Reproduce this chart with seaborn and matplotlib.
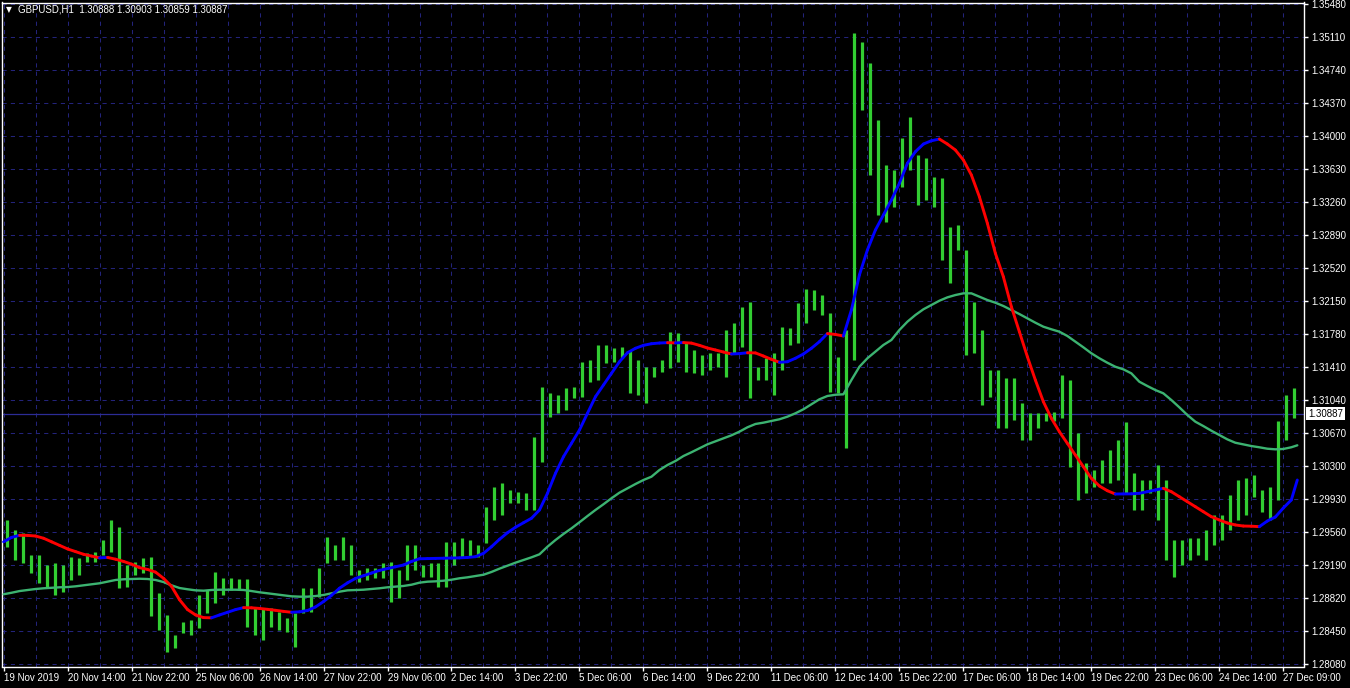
import numpy as np
import matplotlib
matplotlib.use("Agg")
import matplotlib.pyplot as plt
import matplotlib.transforms as mtransforms
from matplotlib.collections import LineCollection
import seaborn as sns

# ---------------- data ----------------
title_text = "GBPUSD,H1  1.30888 1.30903 1.30859 1.30887"
last_price = 1.30887

time_labels = ["19 Nov 2019", "20 Nov 14:00", "21 Nov 22:00", "25 Nov 06:00", "26 Nov 14:00",
               "27 Nov 22:00", "29 Nov 06:00", "2 Dec 14:00", "3 Dec 22:00", "5 Dec 06:00",
               "6 Dec 14:00", "9 Dec 22:00", "11 Dec 06:00", "12 Dec 14:00", "15 Dec 22:00",
               "17 Dec 06:00", "18 Dec 14:00", "19 Dec 22:00", "23 Dec 06:00", "24 Dec 14:00",
               "27 Dec 09:00"]

price_ticks = [1.28080, 1.28450, 1.28820, 1.29190, 1.29560, 1.29930, 1.30300, 1.30670,
               1.31040, 1.31410, 1.31780, 1.32150, 1.32520, 1.32890, 1.33260, 1.33630,
               1.34000, 1.34370, 1.34740, 1.35110, 1.35480]

# price range of every 4-hour block of H1 bars (highs / lows)
block_high = [1.2970, 1.2958, 1.2955, 1.2930, 1.2930, 1.2919, 1.2921, 1.2919, 1.2928, 1.2927,
              1.2932, 1.2934, 1.2947, 1.2970, 1.2962, 1.2919, 1.2922, 1.2927, 1.2928, 1.2888,
              1.2863, 1.2841, 1.2855, 1.2857, 1.2885, 1.2891, 1.2911, 1.2904, 1.2904, 1.2903,
              1.2903, 1.2872, 1.2871, 1.2871, 1.2866, 1.2860, 1.2865, 1.2893, 1.2893, 1.2916,
              1.2950, 1.2941, 1.2950, 1.2941, 1.2913, 1.2916, 1.2916, 1.2921, 1.2922, 1.2913,
              1.2941, 1.2941, 1.2919, 1.2921, 1.2921, 1.2945, 1.2945, 1.2949, 1.2947, 1.2941,
              1.2984, 1.3006, 1.3011, 1.3003, 1.3001, 1.3000, 1.3063, 1.3119, 1.3112, 1.3110,
              1.3117, 1.3119, 1.3147, 1.3149, 1.3166, 1.3166, 1.3162, 1.3163, 1.3160, 1.3149,
              1.3141, 1.3141, 1.3149, 1.3180, 1.3179, 1.3168, 1.3160, 1.3154, 1.3157, 1.3157,
              1.3183, 1.3190, 1.3208, 1.3214, 1.3141, 1.3151, 1.3157, 1.3186, 1.3185, 1.3213,
              1.3228, 1.3227, 1.3222, 1.3202, 1.3152, 1.3183, 1.3516, 1.3505, 1.3482, 1.3418,
              1.3368, 1.3362, 1.3398, 1.3421, 1.3379, 1.3375, 1.3354, 1.3353, 1.3298, 1.3300,
              1.3272, 1.3214, 1.3183, 1.3138, 1.3138, 1.3129, 1.3129, 1.3101, 1.3089, 1.3089,
              1.3089, 1.3091, 1.3132, 1.3126, 1.3067, 1.3033, 1.3026, 1.3037, 1.3048, 1.3059,
              1.3079, 1.3022, 1.3014, 1.3014, 1.3031, 1.3014, 1.2947, 1.2947, 1.2949, 1.2949,
              1.2958, 1.2975, 1.2975, 1.2998, 1.3014, 1.3017, 1.3020, 1.3003, 1.3006, 1.3080,
              1.3110, 1.3117]

block_low = [1.2939, 1.2925, 1.2921, 1.2910, 1.2899, 1.2894, 1.2885, 1.2889, 1.2902, 1.2908,
             1.2922, 1.2922, 1.2930, 1.2934, 1.2893, 1.2894, 1.2908, 1.2910, 1.2862, 1.2846,
             1.2821, 1.2826, 1.2843, 1.2841, 1.2848, 1.2865, 1.2876, 1.2885, 1.2891, 1.2891,
             1.2850, 1.2841, 1.2835, 1.2850, 1.2846, 1.2844, 1.2827, 1.2865, 1.2866, 1.2883,
             1.2921, 1.2925, 1.2925, 1.2908, 1.2900, 1.2902, 1.2904, 1.2904, 1.2878, 1.2882,
             1.2902, 1.2913, 1.2906, 1.2906, 1.2894, 1.2894, 1.2919, 1.2928, 1.2928, 1.2928,
             1.2944, 1.2970, 1.2975, 1.2989, 1.2989, 1.2981, 1.2981, 1.3035, 1.3085, 1.3089,
             1.3093, 1.3106, 1.3107, 1.3124, 1.3126, 1.3146, 1.3147, 1.3151, 1.3112, 1.3110,
             1.3101, 1.3130, 1.3135, 1.3140, 1.3147, 1.3135, 1.3134, 1.3132, 1.3138, 1.3141,
             1.3130, 1.3157, 1.3163, 1.3106, 1.3126, 1.3126, 1.3110, 1.3138, 1.3166, 1.3168,
             1.3190, 1.3205, 1.3199, 1.3113, 1.3112, 1.3050, 1.3149, 1.3429, 1.3356, 1.3311,
             1.3304, 1.3320, 1.3343, 1.3362, 1.3323, 1.3328, 1.3320, 1.3261, 1.3235, 1.3272,
             1.3154, 1.3157, 1.3098, 1.3107, 1.3073, 1.3073, 1.3082, 1.3059, 1.3059, 1.3073,
             1.3080, 1.3080, 1.3084, 1.3029, 1.2992, 1.3000, 1.3006, 1.3011, 1.3011, 1.3014,
             1.3000, 1.2981, 1.2981, 1.3000, 1.2970, 1.2925, 1.2906, 1.2919, 1.2925, 1.2930,
             1.2925, 1.2941, 1.2947, 1.2958, 1.2970, 1.2975, 1.2995, 1.2978, 1.2970, 1.2992,
             1.3059, 1.3084]

# fast moving average (colour by direction), sampled every 4 bars + last bar
fast_ma = [1.29450, 1.29500, 1.29523, 1.29522, 1.29515, 1.29490, 1.29450, 1.29410, 1.29370, 1.29340,
           1.29310, 1.29290, 1.29270, 1.29275, 1.29255, 1.29230, 1.29200, 1.29160, 1.29140, 1.29110,
           1.29040, 1.28950, 1.28800, 1.28690, 1.28630, 1.28600, 1.28598, 1.28630, 1.28660, 1.28690,
           1.28712, 1.28710, 1.28703, 1.28693, 1.28682, 1.28670, 1.28660, 1.28665, 1.28680, 1.28720,
           1.28780, 1.28850, 1.28930, 1.28990, 1.29040, 1.29070, 1.29100, 1.29130, 1.29150, 1.29170,
           1.29190, 1.29230, 1.29260, 1.29262, 1.29264, 1.29266, 1.29268, 1.29270, 1.29275, 1.29283,
           1.29321, 1.29395, 1.29478, 1.29552, 1.29613, 1.29664, 1.29714, 1.29807, 1.29994, 1.30218,
           1.30404, 1.30554, 1.30704, 1.30891, 1.31077, 1.31208, 1.31339, 1.31469, 1.31570, 1.31620,
           1.31653, 1.31671, 1.31679, 1.31683, 1.31680, 1.31684, 1.31678, 1.31653, 1.31623, 1.31601,
           1.31578, 1.31556, 1.31560, 1.31570, 1.31568, 1.31533, 1.31496, 1.31463, 1.31469, 1.31508,
           1.31556, 1.31620, 1.31694, 1.31785, 1.31775, 1.31758, 1.32049, 1.32442, 1.32722, 1.32946,
           1.33114, 1.33282, 1.33470, 1.33694, 1.33824, 1.33910, 1.33947, 1.33966, 1.33910, 1.33843,
           1.33731, 1.33563, 1.33319, 1.33021, 1.32685, 1.32422, 1.32086, 1.31806, 1.31526, 1.31264,
           1.31021, 1.30835, 1.30685, 1.30554, 1.30423, 1.30292, 1.30162, 1.30076, 1.30023, 1.29986,
           1.29987, 1.29988, 1.29994, 1.30012, 1.30031, 1.30050, 1.30012, 1.29956, 1.29900, 1.29844,
           1.29788, 1.29732, 1.29695, 1.29661, 1.29639, 1.29627, 1.29625, 1.29620, 1.29683, 1.29728,
           1.29829, 1.29919, 1.30143]

# slow moving average, same sampling
slow_ma = [1.28862, 1.28879, 1.28898, 1.28910, 1.28921, 1.28929, 1.28935, 1.28940, 1.28943, 1.28951,
           1.28962, 1.28974, 1.28985, 1.29003, 1.29022, 1.29030, 1.29033, 1.29036, 1.29033, 1.29022,
           1.28999, 1.28962, 1.28932, 1.28918, 1.28906, 1.28902, 1.28910, 1.28913, 1.28913, 1.28913,
           1.28910, 1.28898, 1.28884, 1.28873, 1.28862, 1.28850, 1.28839, 1.28835, 1.28835, 1.28842,
           1.28854, 1.28873, 1.28891, 1.28906, 1.28910, 1.28913, 1.28921, 1.28929, 1.28940, 1.28947,
           1.28955, 1.28969, 1.28992, 1.29003, 1.29007, 1.29014, 1.29025, 1.29041, 1.29052, 1.29067,
           1.29081, 1.29112, 1.29149, 1.29182, 1.29216, 1.29246, 1.29276, 1.29310, 1.29395, 1.29470,
           1.29538, 1.29601, 1.29669, 1.29739, 1.29807, 1.29871, 1.29938, 1.30001, 1.30050, 1.30098,
           1.30143, 1.30180, 1.30255, 1.30311, 1.30356, 1.30412, 1.30454, 1.30498, 1.30543, 1.30577,
           1.30611, 1.30644, 1.30685, 1.30734, 1.30771, 1.30786, 1.30805, 1.30824, 1.30853, 1.30891,
           1.30936, 1.30992, 1.31048, 1.31085, 1.31099, 1.31104, 1.31264, 1.31413, 1.31508, 1.31582,
           1.31657, 1.31713, 1.31825, 1.31918, 1.31993, 1.32057, 1.32105, 1.32153, 1.32191, 1.32217,
           1.32236, 1.32236, 1.32198, 1.32161, 1.32131, 1.32094, 1.32049, 1.32004, 1.31956, 1.31907,
           1.31862, 1.31833, 1.31806, 1.31758, 1.31694, 1.31631, 1.31564, 1.31508, 1.31458, 1.31413,
           1.31384, 1.31339, 1.31245, 1.31197, 1.31152, 1.31115, 1.31040, 1.30958, 1.30872, 1.30797,
           1.30748, 1.30696, 1.30648, 1.30599, 1.30561, 1.30543, 1.30524, 1.30510, 1.30494, 1.30487,
           1.30491, 1.30510, 1.30532]

# ---------------- style ----------------
BG = "#000000"
FG = "#ffffff"
BAR_C = "#32cd32"
GRID_C = "#23237a"
BID_C = "#2c2c96"
UP_C = "#0000ff"
DN_C = "#ff0000"
SLOW_C = "#3cb371"

sns.set_theme(style="dark", rc={"axes.facecolor": BG, "figure.facecolor": BG,
                                "savefig.facecolor": BG, "axes.edgecolor": FG})
plt.rcParams["font.family"] = ["Liberation Sans", "DejaVu Sans"]

W, H = 1350, 688
fig = plt.figure(figsize=(W / 100, H / 100), dpi=100)
ax = fig.add_axes([2 / W, 21.5 / H, 1302 / W, 664 / H])
ax.set_facecolor(BG)

n_bars = 648
block_x = np.arange(len(block_high)) * 4 + 1.5
ma_x = np.r_[np.arange(0, n_bars, 4), n_bars - 1]

# grid
ax.set_xlim(-0.8, 650.35)
ax.set_ylim(1.28052, 1.35497)
ax.set_xticks(np.arange(0, 32 * len(time_labels), 32))
ax.set_xticks(np.arange(16, n_bars, 32), minor=True)
ax.set_xticklabels(time_labels)
ax.yaxis.tick_right()
ax.set_yticks(price_ticks)
ax.set_yticklabels([f"{p:.5f}" for p in price_ticks])
ax.grid(True, which="both", axis="x", color=GRID_C, linestyle=(0, (4, 4)), linewidth=0.75)
ax.grid(True, which="major", axis="y", color=GRID_C, linestyle=(0, (4, 4)), linewidth=0.75)
ax.set_axisbelow(True)

# bid line
ax.axhline(last_price, color=BID_C, linewidth=0.9, zorder=1.5)

# bars
ax.vlines(block_x, block_low, block_high, colors=BAR_C, linewidth=2.3, zorder=2)

# slow MA
sns.lineplot(x=ma_x, y=slow_ma, ax=ax, color=SLOW_C, linewidth=1.7, estimator=None,
             sort=False, zorder=3)

# fast MA coloured by direction
fast = np.asarray(fast_ma)
pts = np.column_stack([ma_x, fast])
segs = np.stack([pts[:-1], pts[1:]], axis=1)
cols = np.where(np.diff(fast) > 0, UP_C, DN_C)
lc = LineCollection(segs, colors=cols, linewidths=2.1, capstyle="round", zorder=4)
ax.add_collection(lc)

# axes / ticks
for s in ax.spines.values():
    s.set_color(FG)
    s.set_linewidth(1.0)
ax.tick_params(axis="x", which="major", length=3, width=1, color=FG, labelcolor=FG,
               labelsize=7, pad=1.5, direction="out", bottom=True)
ax.tick_params(axis="x", which="minor", length=0)
ax.tick_params(axis="y", which="major", length=3, width=1, color=FG, labelcolor=FG,
               labelsize=7, pad=2.5, direction="out", right=True, left=False)
for lab in ax.get_xticklabels():
    lab.set_horizontalalignment("left")
ax.set_xlabel("")
ax.set_ylabel("")

# current price label
tr = mtransforms.blended_transform_factory(fig.transFigure, ax.transData)
fig.text(1308 / W, last_price, f"{last_price:.5f}", transform=tr, ha="left", va="center",
         fontsize=7, color="black",
         bbox=dict(boxstyle="square,pad=0.18", facecolor="white", edgecolor="none"))

# title
fig.text(6 / W, 1 - 10 / H, "\u25bc", fontsize=5.5, color=FG, ha="left", va="center",
         family=["DejaVu Sans"])
fig.text(18 / W, 1 - 10 / H, title_text, fontsize=7, color=FG, ha="left", va="center")

fig.savefig("out.png", dpi=100, facecolor=BG)
